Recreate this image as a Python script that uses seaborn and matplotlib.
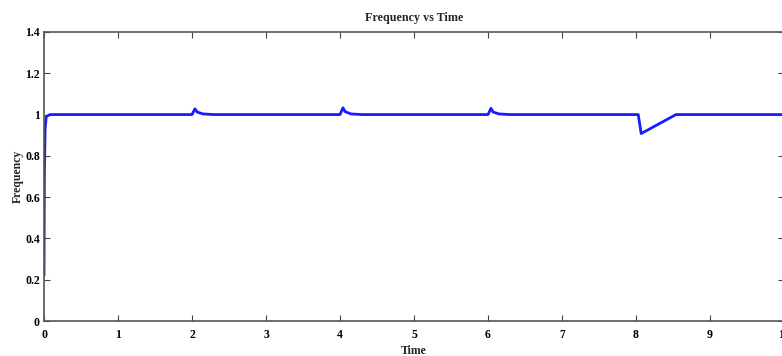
import pandas as pd
import matplotlib.pyplot as plt
import seaborn as sns

# key points
time = [0.0, 0.005, 0.015, 0.03, 0.08,
        2.0, 2.04, 2.07, 2.15, 2.3,
        4.0, 4.04, 4.07, 4.15, 4.3,
        6.0, 6.04, 6.07, 6.15, 6.3,
        8.03, 8.07, 8.54, 10.0]
frequency = [0.22, 0.70, 0.93, 0.99, 1.0,
             1.0, 1.028, 1.012, 1.003, 1.0,
             1.0, 1.033, 1.014, 1.003, 1.0,
             1.0, 1.030, 1.012, 1.003, 1.0,
             1.0, 0.908, 1.0, 1.0]

x_ticks = [0, 1, 2, 3, 4, 5, 6, 7, 8, 9, 10]
y_ticks = [0, 0.2, 0.4, 0.6, 0.8, 1.0, 1.2, 1.4]
y_labels = ["0", "0.2", "0.4", "0.6", "0.8", "1", "1.2", "1.4"]

df = pd.DataFrame({"Time": time, "Frequency": frequency})

sns.set_theme(style="ticks")
plt.rcParams["font.family"] = ["Liberation Serif", "DejaVu Serif"]

fig = plt.figure(figsize=(7.82, 3.56), dpi=100)
ax = fig.add_axes([44 / 782, 1 - 321 / 356, 740 / 782, 289 / 356])

sns.lineplot(data=df, x="Time", y="Frequency", ax=ax, color="#1a1aff",
             linewidth=2.0, sort=False, estimator=None)

ax.set_xlim(0, 10)
ax.set_ylim(0, 1.4)
ax.set_xticks(x_ticks)
ax.set_xticklabels([str(t) for t in x_ticks], fontweight="bold", fontsize=8.5)
ax.set_yticks(y_ticks)
ax.set_yticklabels(y_labels, fontweight="bold", fontsize=8.5)
ax.tick_params(direction="in", length=4, width=0.8, top=True, right=True,
               colors="#444444", labelcolor="black")
ax.tick_params(axis="x", pad=6)
ax.tick_params(axis="y", pad=3)
for s in ax.spines.values():
    s.set_linewidth(1.2)
    s.set_color("#555555")

ax.set_title("Frequency vs Time", fontsize=8.7, fontweight="bold", pad=8)
ax.set_xlabel("Time", fontsize=8.5, fontweight="bold", labelpad=3)
ax.set_ylabel("Frequency", fontsize=8.5, fontweight="bold", labelpad=1)

fig.savefig("out.png", dpi=100)
